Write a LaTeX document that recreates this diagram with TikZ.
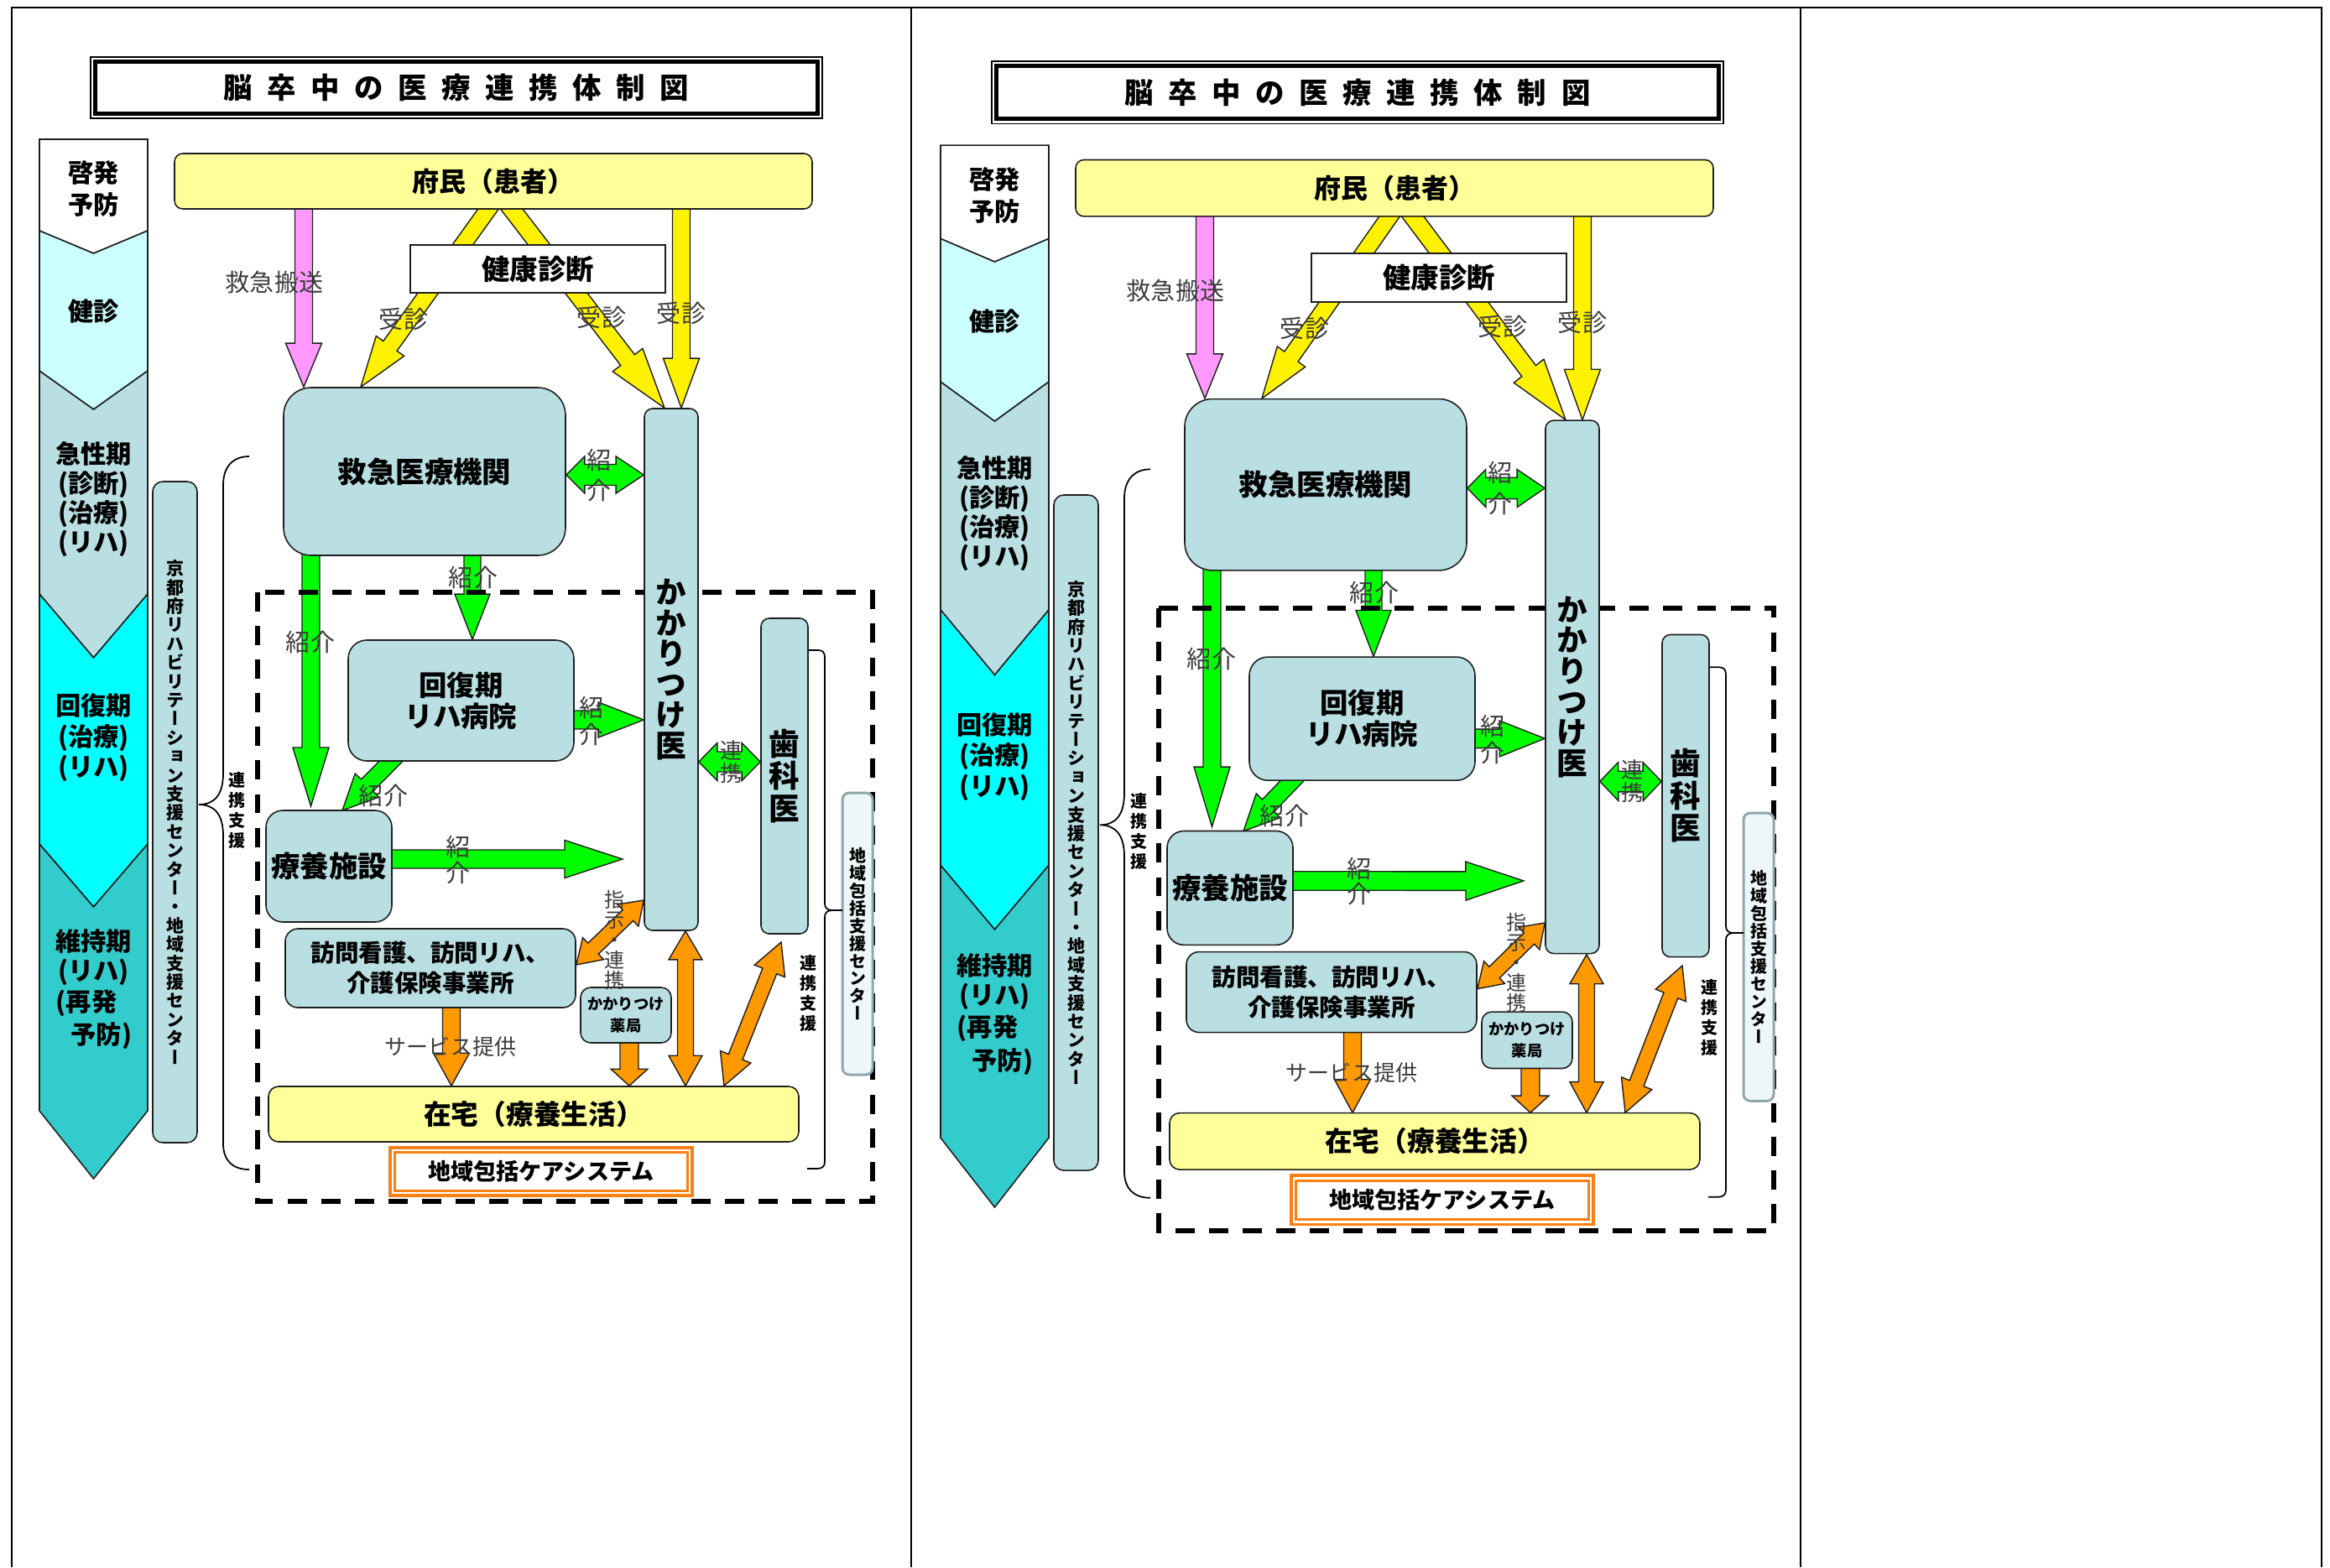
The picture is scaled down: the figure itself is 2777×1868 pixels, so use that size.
\documentclass[tikz,border=0pt]{standalone}
\usepackage{fontspec}
\newfontfamily\jp{Noto Sans CJK JP}
\newfontfamily\jpv{Noto Sans CJK JP}[RawFeature=+vert]
\usetikzlibrary{calc}
\pgfdeclarelayer{arrlayer}
\pgfdeclarelayer{dashlayer}
\pgfsetlayers{arrlayer,dashlayer,main}

\definecolor{boxc}{RGB}{185,223,227}
\definecolor{lyel}{RGB}{255,255,153}
\definecolor{ycy}{RGB}{204,255,255}
\definecolor{cyn}{RGB}{0,255,255}
\definecolor{tealc}{RGB}{51,204,204}
\definecolor{pinkc}{RGB}{255,153,255}
\definecolor{grn}{RGB}{0,255,0}
\definecolor{orgc}{RGB}{255,153,0}
\definecolor{orgb}{RGB}{250,128,20}
\definecolor{chiikifill}{RGB}{238,247,248}
\definecolor{chiikiline}{RGB}{143,168,171}
\definecolor{lbl}{RGB}{60,60,60}
\definecolor{edge}{RGB}{30,30,30}

\newcommand\fs[2]{\fontsize{#1pt}{#2pt}\selectfont\lineskiplimit=-\maxdimen\relax}
\def\vt#1{\vtA#1\relax}
\def\vtA#1{#1\vtB}
\def\vtB#1{\ifx\relax#1\else\\#1\expandafter\vtB\fi}
\def\hs{1}

% single block arrow: style, from, to, half shaft, half head, head length
\newcommand\sarr[6]{%
  \coordinate (aH) at ($(#3)!#6!(#2)$);
  \draw[#1] ($(#2)!#4!90:(#3)$) -- ($(aH)!#4!90:(#3)$) -- ($(aH)!#5!90:(#3)$) -- (#3)
    -- ($(aH)!#5!-90:(#3)$) -- ($(aH)!#4!-90:(#3)$) -- ($(#2)!#4!-90:(#3)$) -- cycle;}
% double block arrow: style, end A, end B, half shaft, half head, head length A, head length B
\newcommand\darr[7]{%
  \coordinate (aH) at ($(#3)!#7!(#2)$);
  \coordinate (aG) at ($(#2)!#6!(#3)$);
  \draw[#1] (#2) -- ($(aG)!#5!90:(#3)$) -- ($(aG)!#4!90:(#3)$) -- ($(aH)!#4!90:(#3)$)
    -- ($(aH)!#5!90:(#3)$) -- (#3) -- ($(aH)!#5!-90:(#3)$) -- ($(aH)!#4!-90:(#3)$)
    -- ($(aG)!#4!-90:(#3)$) -- ($(aG)!#5!-90:(#3)$) -- cycle;}

\tikzset{
  box/.style={draw=edge, line width=0.45pt, fill=boxc, rounded corners=#1, inner sep=0pt, align=center},
  box/.default=3pt,
  sz/.style 2 args={minimum width=#1*0.01cm, minimum height=#2*\hs*0.01cm},
  lab/.style={text=lbl, inner sep=0pt, align=center},
  arr/.style={draw=edge, line width=0.4pt, line join=miter},
  yarr/.style={arr, fill=yellow},
  parr/.style={arr, fill=pinkc},
  garr/.style={arr, fill=grn},
  oarr/.style={arr, fill=orgc},
  col/.style={draw=edge, line width=0.45pt},
  coltxt/.style={inner sep=0pt, align=center, font=\jp\bfseries\fs{8.6}{10.4}},
  brk/.style={draw=black, line width=0.5pt},
  dashbox/.style={draw=black, line width=1.7pt, dash pattern=on 6.5pt off 4.9pt},
  tbl/.style={draw=black, line width=0.6pt}
}

\newcommand\drawdiagram{%
  % ---- stage column
  \draw[col, fill=white] (47,166) -- (176,166) -- (176,275) -- (111.5,302) -- (47,275) -- cycle;
  \draw[col, fill=ycy] (47,275) -- (111.5,302) -- (176,275) -- (176,442) -- (111.5,488) -- (47,442) -- cycle;
  \draw[col, fill=boxc] (47,442) -- (111.5,488) -- (176,442) -- (176,708) -- (111.5,784) -- (47,708) -- cycle;
  \draw[col, fill=cyn] (47,708) -- (111.5,784) -- (176,708) -- (176,1006) -- (111.5,1081) -- (47,1006) -- cycle;
  \draw[col, fill=tealc] (47,1006) -- (111.5,1081) -- (176,1006) -- (176,1324) -- (111.5,1405) -- (47,1324) -- cycle;
  \node[coltxt, font=\jp\bfseries\fs{8.6}{10.8}] (st1) at (111.5,225) {啓発\\予防};
  \node[coltxt] (st2) at (111.5,371) {健診};
  \node[coltxt, font=\jp\bfseries\fs{8.6}{9.96}] (st3) at (111.5,595.5) {急性期\\(診断)\\(治療)\\(リハ)};
  \node[coltxt, font=\jp\bfseries\fs{8.6}{10.4}] (st4) at (111.5,879.5) {回復期\\(治療)\\(リハ)};
  \node[coltxt, font=\jp\bfseries\fs{8.6}{10}] (st5) at (111.5,1141.5) {維持期\\(リハ)};
  \node[coltxt, anchor=west] (st6) at (66,1196) {(再発};
  \node[coltxt, anchor=east] (st7) at (158,1235) {予防)};
  % ---- title
  \node[draw=black, line width=0.45pt, sz={872}{73}, inner sep=0pt, font=\jp\bfseries\fs{9.8}{10}] (title) at (544,104.5)
    {脳\kern5pt 卒\kern5pt 中\kern5pt の\kern5pt 医\kern5pt 療\kern5pt 連\kern5pt 携\kern5pt 体\kern5pt 制\kern5pt 図};
  \draw[line width=1.5pt] ($(title.south west)+(6.5,-6.5)$) rectangle ($(title.north east)+(-6.5,6.5)$);
  % ---- boxes
  \node[box=2.8pt, fill=lyel, sz={760}{66}, font=\jp\bfseries\fs{9.1}{10}] (fumin) at (588,216) {府民（患者）};
  \node[draw=edge, line width=0.45pt, fill=white, inner sep=0pt, sz={304}{57}, font=\jp\bfseries\fs{9.5}{10}] (kenko) at (641,320.5) {健康診断};
  \node[box=9.4pt, sz={336}{200}, font=\jp\bfseries\fs{9.8}{11}] (kyu) at (506,562) {救急医療機関};
  \node[box=2.8pt, sz={64}{622}, font=\jpv\bfseries\fs{10.4}{10.41}] (kak) at (800,798) {\vt{かかりつけ医}};
  \node[box=6.3pt, sz={269}{144}, font=\jp\bfseries\fs{9.5}{10.5}] (kai) at (549.5,835) {回復期\\リハ病院};
  \node[box=2.8pt, sz={56}{376}, font=\jpv\bfseries\fs{10.4}{10.95}] (shika) at (935,925) {歯\\科\\医};
  \node[box=5.7pt, sz={150}{133}, font=\jp\bfseries\fs{9.8}{11}] (ryo) at (392,1032.5) {療養施設};
  \node[box=4.3pt, sz={346}{94}, font=\jp\bfseries\fs{8.1}{10.2}] (hou) at (513,1154) {訪問看護、訪問リハ、\\介護保険事業所};
  \node[box=3.4pt, sz={108}{66}, font=\jp\bfseries\fs{5.2}{7.4}] (yak) at (746,1210) {かかりつけ\\薬局};
  \node[box=3.4pt, fill=lyel, sz={632}{66}, font=\jp\bfseries\fs{9.3}{10}] (zai) at (636,1328) {在宅（療養生活）};
  \node[draw=orgb, line width=1pt, fill=white, inner sep=0pt, sz={360}{57}, font=\jp\bfseries\fs{7.7}{9}] (care) at (645,1396.5) {地域包括ケアシステム};
  \draw[orgb, line width=0.9pt] ($(care.south west)+(7.5,-7.5)$) rectangle ($(care.north east)+(-7.5,7.5)$);
  \node[box=3.4pt, sz={53}{788}, font=\jpv\bfseries\fs{5.97}{6.37}] (kyoto) at (208.5,968)
    {\vt{京都府リハビリテーション支援センター・地域支援センター}};
  \node[draw=chiikiline, line width=0.85pt, fill=chiikifill, rounded corners=2.3pt, inner sep=0pt, align=center,
        sz={36}{336}, font=\jpv\bfseries\fs{5.69}{5.97}] (chiiki) at (1022,1113) {\vt{地域包括支援センター}};
  % ---- braces
  \draw[brk] (297,544) .. controls (278,544) and (266,556) .. (266,578) -- (266,922)
    .. controls (266,948) and (255,959) .. (237,959) .. controls (255,959) and (266,970) .. (266,996)
    -- (266,1363) .. controls (266,1384) and (278,1394) .. (297,1394);
  \draw[brk] (964,775) -- (975,775) .. controls (981,775) and (983,778) .. (983,784) -- (983,1077)
    .. controls (983,1082) and (986,1085) .. (992,1085) -- (1004,1085);
  \draw[brk] (992,1085) .. controls (986,1085) and (983,1088) .. (983,1093) -- (983,1385)
    .. controls (983,1390) and (980,1393) .. (974,1393) -- (962,1393);
  \node[inner sep=0pt, align=center, font=\jpv\bfseries\fs{5.69}{6.83}] (renL) at (283,966) {連\\携\\支\\援};
  \node[inner sep=0pt, align=center, font=\jpv\bfseries\fs{5.69}{6.83}] (renR) at (963,1183.5) {連\\携\\支\\援};
  % ---- arrow labels
  \node[lab, font=\jp\fs{8.25}{10}] (lb1) at (327,336) {救急搬送};
  \node[lab, font=\jp\fs{8.25}{10}] (lb2) at (481,380) {受診};
  \node[lab, font=\jp\fs{8.25}{10}] (lb3) at (717,378) {受診};
  \node[lab, font=\jp\fs{8.25}{10}] (lb4) at (812,373) {受診};
  \node[lab, font=\jp\fs{8.25}{10.5}] (lb5) at (714,566.5) {紹\\介};
  \node[lab, font=\jp\fs{8.25}{10}] (lb6) at (564,688) {紹介};
  \node[lab, font=\jp\fs{8.25}{10}] (lb7) at (370,765) {紹介};
  \node[lab, font=\jp\fs{8.25}{9.1}] (lb8) at (705,859) {紹\\介};
  \node[lab, font=\jp\fs{8.25}{10}] (lb9) at (457,948) {紹介};
  \node[lab, font=\jp\fs{8.25}{8.6}] (lb10) at (546,1025) {紹\\介};
  \node[lab, font=\jp\fs{7.4}{7.7}] (lb11) at (872,908) {連\\携};
  \node[lab, font=\jpv\fs{6.83}{6.83}] (lb12) at (733,1120) {指\\示\\・\\連\\携};
  \node[lab, font=\jp\fs{7.4}{9}] (lb13) at (537,1248) {サービス提供};
  % ---- arrows (below boxes)
  \begin{pgfonlayer}{arrlayer}
    \coordinate (pkA) at (fumin.center -| 362,0);
    \coordinate (pkB) at (kyu.north -| 362,0);
    \sarr{parr}{pkA}{pkB}{1.05mm}{2.15mm}{5.2mm}
    \coordinate (ylA) at (600,224);
    \coordinate (ylB) at (kyu.north -| 430,0);
    \sarr{yarr}{ylA}{ylB}{1.0mm}{2.05mm}{6.0mm}
    \coordinate (yrA) at (592,226);
    \coordinate (yrB) at (kak.north -| 792,0);
    \sarr{yarr}{yrA}{yrB}{1.05mm}{2.25mm}{7.2mm}
    \coordinate (yvA) at (fumin.center -| 812,0);
    \coordinate (yvB) at (kak.north -| 812,0);
    \sarr{yarr}{yvA}{yvB}{1.05mm}{2.15mm}{5.9mm}
    \coordinate (g1A) at (kyu.east |- 0,566);
    \coordinate (g1B) at (kak.west |- 0,566);
    \darr{garr}{g1A}{g1B}{1.25mm}{2.2mm}{2.2mm}{3.3mm}
    \coordinate (g2A) at (kyu.center -| 370.5,0);
    \coordinate (g2B) at (370.5,961);
    \sarr{garr}{g2A}{g2B}{1.05mm}{2.15mm}{7.0mm}
    \coordinate (g3A) at (kyu.center -| 563,0);
    \coordinate (g3B) at (kai.north -| 563,0);
    \sarr{garr}{g3A}{g3B}{1.0mm}{2.1mm}{5.4mm}
    \coordinate (g4A) at (kai.center |- 0,858);
    \coordinate (g4B) at (kak.west |- 0,858);
    \sarr{garr}{g4A}{g4B}{1.1mm}{2.1mm}{5.4mm}
    \coordinate (g5A) at (485,888);
    \coordinate (g5B) at (408,966);
    \sarr{garr}{g5A}{g5B}{1.0mm}{2.0mm}{4.2mm}
    \coordinate (g6A) at (ryo.center |- 0,1024);
    \coordinate (g6B) at (742,1024);
    \sarr{garr}{g6A}{g6B}{1.1mm}{2.25mm}{6.9mm}
    \coordinate (g7A) at (kak.east |- 0,908);
    \coordinate (g7B) at (shika.west |- 0,908);
    \darr{garr}{g7A}{g7B}{1.2mm}{2.25mm}{2.2mm}{2.2mm}
    \coordinate (o1A) at (kak.west |- 0,1073);
    \coordinate (o1B) at (hou.east |- 0,1150);
    \darr{oarr}{o1A}{o1B}{0.9mm}{1.8mm}{2.6mm}{2.8mm}
    \coordinate (o2A) at (hou.center -| 538,0);
    \coordinate (o2B) at (zai.north -| 538,0);
    \sarr{oarr}{o2A}{o2B}{1.05mm}{2.15mm}{3.9mm}
    \coordinate (o3A) at (yak.center -| 750,0);
    \coordinate (o3B) at (zai.north -| 750,0);
    \sarr{oarr}{o3A}{o3B}{1.1mm}{2.2mm}{2.0mm}
    \coordinate (o4A) at (kak.south -| 817,0);
    \coordinate (o4B) at (zai.north -| 817,0);
    \darr{oarr}{o4A}{o4B}{0.95mm}{2.0mm}{3.4mm}{3.6mm}
    \coordinate (o5A) at (931,1123);
    \coordinate (o5B) at (zai.north -| 863,0);
    \darr{oarr}{o5A}{o5B}{0.9mm}{1.95mm}{3.7mm}{3.7mm}
  \end{pgfonlayer}
  \begin{pgfonlayer}{dashlayer}
    \draw[dashbox] (307,706) rectangle (1040,1432);
  \end{pgfonlayer}
}

\begin{document}
\begin{tikzpicture}[x=0.01cm, y=-0.01cm]
  \useasboundingbox (0,0) rectangle (2777,1868);
  \draw[tbl] (14,1868) -- (14,9) -- (2767,9) -- (2767,1868);
  \draw[tbl] (1086,9) -- (1086,1868);
  \draw[tbl] (2146,9) -- (2146,1868);
  \begin{scope}
    \def\hs{1}
    \drawdiagram
  \end{scope}
  \begin{scope}[shift={(1074,3.5)}, yscale=1.0217]
    \def\hs{1.0217}
    \drawdiagram
  \end{scope}
\end{tikzpicture}
\end{document}
